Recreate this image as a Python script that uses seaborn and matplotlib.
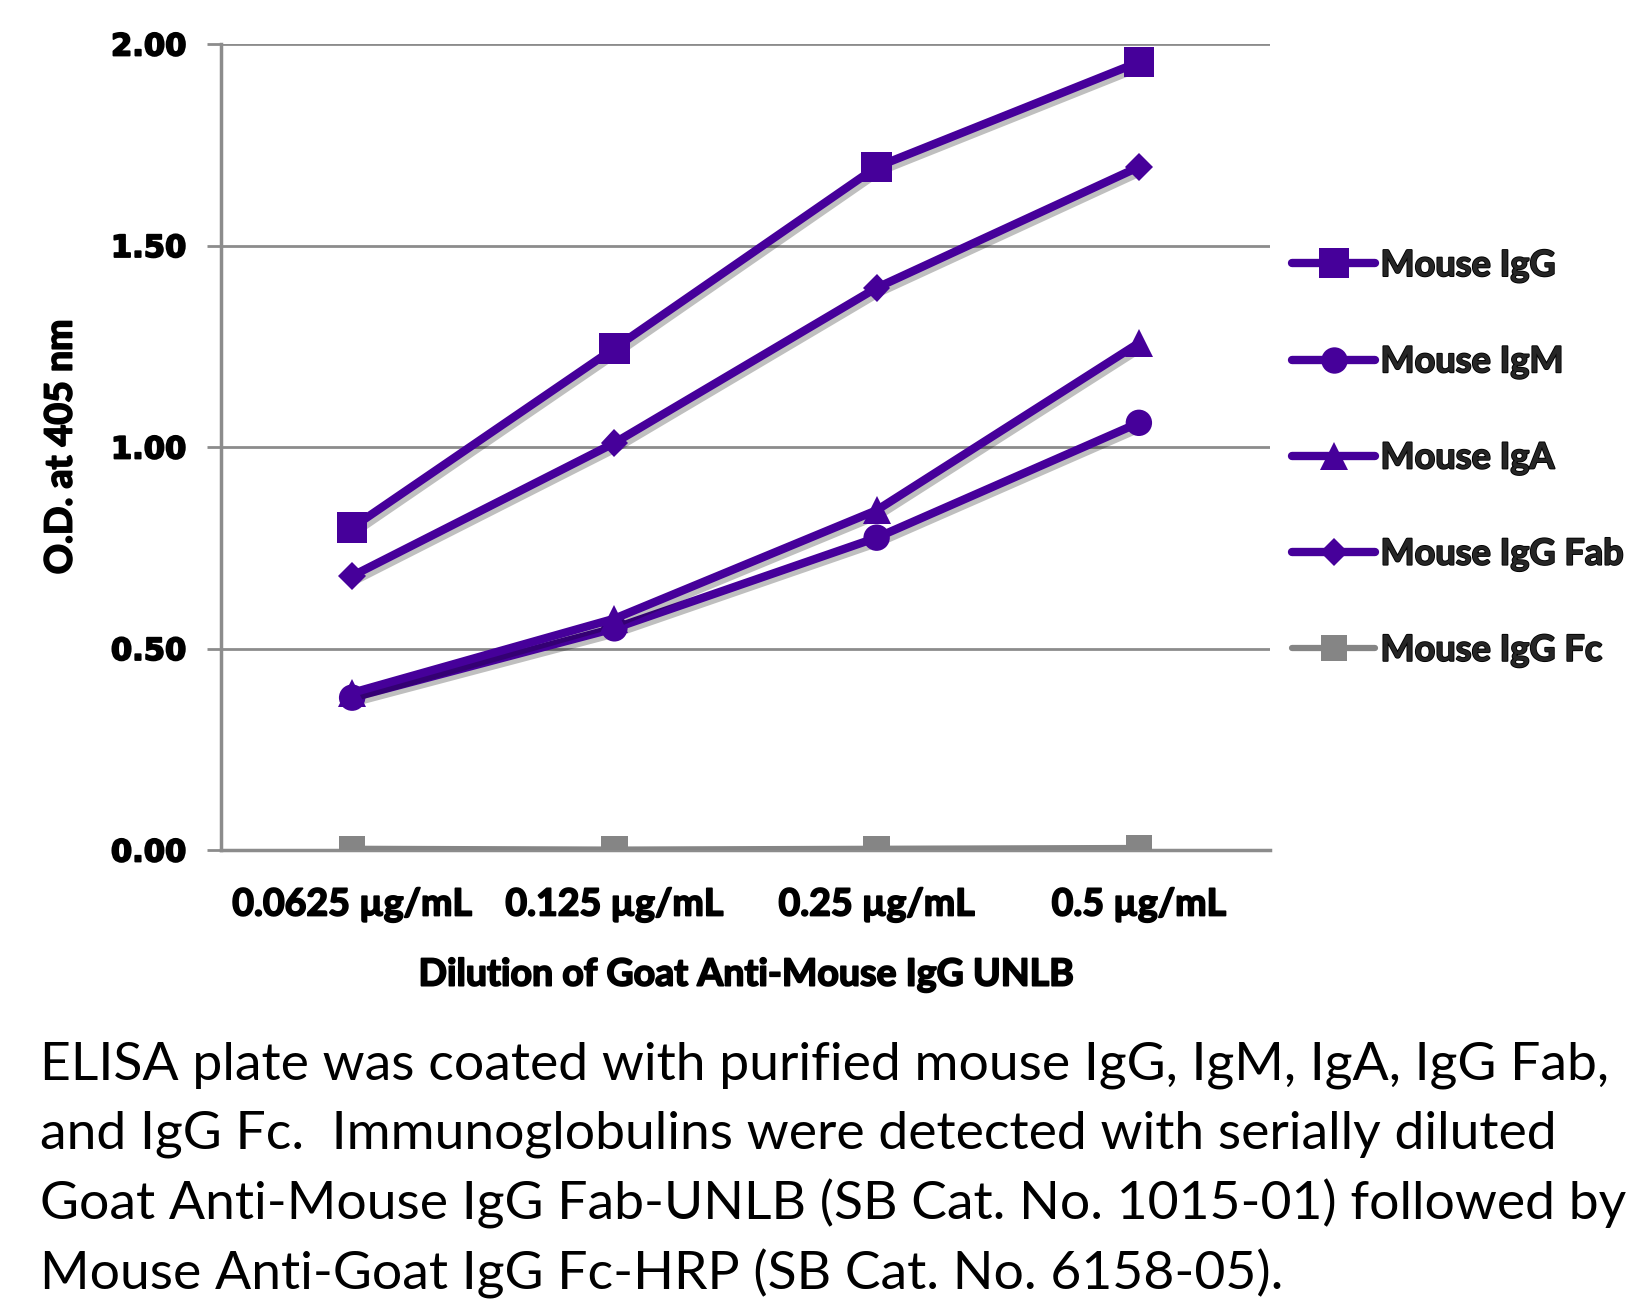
import numpy as np
import pandas as pd
import matplotlib
matplotlib.use("Agg")
import matplotlib.pyplot as plt
import matplotlib.patheffects as pe
import seaborn as sns

# 数据
dilutions = ["0.0625 µg/mL", "0.125 µg/mL", "0.25 µg/mL", "0.5 µg/mL"]
series = ["Mouse IgG", "Mouse IgM", "Mouse IgA", "Mouse IgG Fab", "Mouse IgG Fc"]
igg = [0.80, 1.245, 1.695, 1.955]
igm = [0.378, 0.55, 0.775, 1.06]
iga = [0.39, 0.574, 0.843, 1.258]
igg_fab = [0.68, 1.01, 1.395, 1.695]
igg_fc = [0.003, 0.001, 0.003, 0.005]
y_ticks = [0.0, 0.5, 1.0, 1.5, 2.0]
caption = [
    "ELISA plate was coated with purified mouse IgG, IgM, IgA, IgG Fab,",
    "and IgG Fc.  Immunoglobulins were detected with serially diluted",
    "Goat Anti-Mouse IgG Fab-UNLB (SB Cat. No. 1015-01) followed by",
    "Mouse Anti-Goat IgG Fc-HRP (SB Cat. No. 6158-05).",
]

purple = "#46009a"
gray = "#858585"
palette = dict(zip(series, [purple, purple, purple, purple, gray]))
markers = dict(zip(series, ["s", "o", "^", "D", "s"]))
msizes = dict(zip(series, [22, 19, 20, 14, 19]))

df = pd.DataFrame({
    "dilution": dilutions * len(series),
    "series": np.repeat(series, len(dilutions)),
    "od": igg + igm + iga + igg_fab + igg_fc,
})

sns.set_style("white")
plt.rcParams["font.family"] = ["Lato", "DejaVu Sans"]

# 粗体文字加一点描边，更接近原图的粗字
thick = [pe.withStroke(linewidth=1.3, foreground="black")]

fig = plt.figure(figsize=(16.5, 13.07), dpi=100)
ax = fig.add_axes([221 / 1650, 1 - 850 / 1307, 1049 / 1650, 806 / 1307])

sns.lineplot(data=df, x="dilution", y="od", hue="series", style="series",
             hue_order=series, style_order=series, palette=palette,
             markers=markers, dashes=False, linewidth=6, sort=False,
             legend=False, ax=ax, zorder=3)

shadow = [pe.SimpleLineShadow(offset=(2.5, -3), alpha=0.25, shadow_color="black"),
          pe.Normal()]
for line, name in zip(ax.lines, series):
    line.set_markersize(msizes[name])
    line.set_markeredgewidth(0)
    line.set_solid_capstyle("round")
    if name == "Mouse IgG Fc":
        line.set_linewidth(4.5)
    line.set_path_effects(shadow)

ax.set_xlim(-0.5, 3.5)
ax.set_ylim(0, 2.0)
ax.set_yticks(y_ticks)
ax.set_yticklabels([f"{v:.2f}" for v in y_ticks], fontfamily="DejaVu Sans",
                   fontweight="bold", fontsize=22, color="black")
ax.set_xticks(range(len(dilutions)))
ax.set_xticklabels(dilutions, fontweight="bold", fontsize=27, color="black")
ax.set_xticks(np.arange(-0.5, 4.0, 1.0), minor=True)
ax.tick_params(axis="x", which="major", length=0, pad=27)
ax.tick_params(axis="x", which="minor", length=10, width=2, color="#8c8c8c", direction="out")
ax.tick_params(axis="y", length=10, width=2, color="#8c8c8c", direction="out", pad=15, left=True)
ax.yaxis.grid(True, color="#8c8c8c", linewidth=2)
ax.xaxis.grid(False)
for s in ["top", "right"]:
    ax.spines[s].set_visible(False)
for s in ["left", "bottom"]:
    ax.spines[s].set_color("#8c8c8c")
    ax.spines[s].set_linewidth(2.5)
ax.set_axisbelow(True)

ax.set_xlabel("Dilution of Goat Anti-Mouse IgG UNLB", fontweight="bold", fontsize=27,
              labelpad=26, color="black")
ax.set_ylabel("O.D. at 405 nm", fontweight="bold", fontsize=27, labelpad=24, color="black")

leg = ax.legend(handles=ax.lines, labels=series, loc="center left",
                bbox_to_anchor=(1292 / 1650, 1 - 458 / 1307), bbox_transform=fig.transFigure,
                frameon=False, prop={"weight": "bold", "size": 26},
                handlelength=2.3, handletextpad=0.15, labelspacing=1.75,
                borderpad=0, borderaxespad=0, markerscale=1.0)
for h in leg.legend_handles:
    h.set_path_effects([])

for t in (ax.get_xticklabels() + ax.get_yticklabels() + leg.get_texts()
          + [ax.xaxis.label, ax.yaxis.label]):
    t.set_path_effects(thick)

for i, line in enumerate(caption):
    fig.text(40 / 1650, 1 - (1065 + i * 69.5) / 1307, line, fontsize=38.5,
             va="center", ha="left", color="black")

plt.savefig("out.png", dpi=100)
plt.close()
